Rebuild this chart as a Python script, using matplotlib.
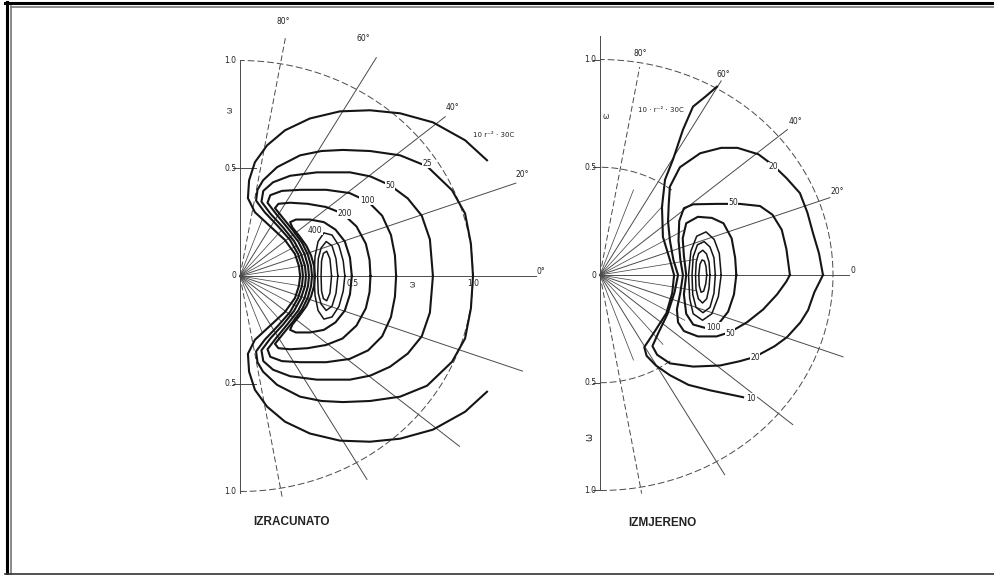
import numpy as np
import matplotlib
matplotlib.use('Agg')
import matplotlib.pyplot as plt

# ============================================================
#  Data (units of r, r = 1.0 at the outer arc)
# ============================================================

# --- left panel (computed), symmetric: upper halves only ---
L10_x = [0.258, 0.253, 0.236, 0.193, 0.129, 0.064, 0.034, 0.039, 0.064, 0.116,
         0.193, 0.300, 0.429, 0.558, 0.687, 0.828, 0.966, 1.060]
L10_y = [0.0, 0.046, 0.102, 0.167, 0.231, 0.296, 0.361, 0.444, 0.528, 0.606,
         0.676, 0.731, 0.764, 0.769, 0.755, 0.713, 0.630, 0.537]
L25_x = [0.270, 0.266, 0.249, 0.215, 0.163, 0.106, 0.069, 0.075, 0.099, 0.159,
         0.258, 0.350, 0.442, 0.558, 0.687, 0.803, 0.910, 0.966, 0.991, 1.000]
L25_y = [0.0, 0.046, 0.102, 0.167, 0.231, 0.296, 0.350, 0.400, 0.444, 0.505,
         0.560, 0.580, 0.585, 0.580, 0.560, 0.509, 0.398, 0.290, 0.150, 0.0]
L50_x = [0.283, 0.279, 0.262, 0.232, 0.185, 0.130, 0.092, 0.100, 0.142, 0.215,
         0.330, 0.472, 0.560, 0.644, 0.720, 0.780, 0.815, 0.828]
L50_y = [0.0, 0.046, 0.102, 0.162, 0.225, 0.290, 0.345, 0.395, 0.435, 0.465,
         0.481, 0.481, 0.462, 0.421, 0.360, 0.280, 0.170, 0.0]
L100_x = [0.296, 0.292, 0.277, 0.250, 0.205, 0.155, 0.118, 0.130, 0.180, 0.260,
          0.370, 0.470, 0.550, 0.610, 0.648, 0.665, 0.670]
L100_y = [0.0, 0.046, 0.102, 0.160, 0.222, 0.288, 0.340, 0.375, 0.395, 0.400,
          0.400, 0.385, 0.345, 0.280, 0.190, 0.095, 0.0]
L200_x = [0.309, 0.305, 0.291, 0.266, 0.225, 0.180, 0.150, 0.165, 0.215, 0.290,
          0.370, 0.440, 0.500, 0.540, 0.556, 0.560]
L200_y = [0.0, 0.046, 0.100, 0.155, 0.215, 0.275, 0.315, 0.335, 0.340, 0.335,
          0.320, 0.290, 0.230, 0.150, 0.075, 0.0]
L400_x = [0.322, 0.318, 0.305, 0.285, 0.255, 0.225, 0.215, 0.240, 0.300, 0.360,
          0.410, 0.450, 0.472, 0.480]
L400_y = [0.0, 0.046, 0.095, 0.140, 0.185, 0.225, 0.250, 0.262, 0.262, 0.250,
          0.215, 0.160, 0.085, 0.0]
L600_x = [0.318, 0.322, 0.335, 0.360, 0.395, 0.425, 0.443, 0.450]
L600_y = [0.0, 0.090, 0.160, 0.200, 0.190, 0.140, 0.070, 0.0]
L800_x = [0.333, 0.336, 0.348, 0.370, 0.395, 0.412, 0.420]
L800_y = [0.0, 0.080, 0.130, 0.160, 0.140, 0.080, 0.0]
L1000_x = [0.348, 0.350, 0.358, 0.372, 0.386, 0.393]
L1000_y = [0.0, 0.070, 0.105, 0.115, 0.080, 0.0]

# --- right panel (measured), full curves ---
R10_x = [0.502, 0.455, 0.399, 0.356, 0.313, 0.279, 0.266, 0.270, 0.300, 0.318,
         0.310, 0.285, 0.230, 0.190, 0.200, 0.240, 0.300, 0.380, 0.472, 0.614]
R10_y = [0.874, 0.830, 0.781, 0.674, 0.535, 0.442, 0.316, 0.177, 0.070, 0.0,
         -0.084, -0.177, -0.270, -0.335, -0.375, -0.420, -0.465, -0.510, -0.535, -0.567]
R20_x = [0.957, 0.940, 0.914, 0.890, 0.858, 0.800, 0.742, 0.680, 0.590, 0.520,
         0.430, 0.343, 0.300, 0.295, 0.292, 0.300, 0.315, 0.335, 0.320, 0.290,
         0.250, 0.225, 0.245, 0.300, 0.400, 0.515, 0.600, 0.665, 0.750, 0.803,
         0.860, 0.893, 0.920, 0.957]
R20_y = [0.0, 0.100, 0.195, 0.290, 0.380, 0.450, 0.510, 0.560, 0.590, 0.590,
         0.565, 0.500, 0.410, 0.330, 0.250, 0.160, 0.070, 0.0, -0.080, -0.180,
         -0.270, -0.330, -0.370, -0.410, -0.425, -0.420, -0.400, -0.380, -0.330, -0.288,
         -0.220, -0.163, -0.080, 0.0]
R50_x = [0.815, 0.800, 0.780, 0.740, 0.687, 0.600, 0.500, 0.400, 0.360, 0.340,
         0.337, 0.345, 0.356, 0.345, 0.330, 0.335, 0.360, 0.420, 0.500, 0.558,
         0.630, 0.700, 0.760, 0.800, 0.815]
R50_y = [0.0, 0.120, 0.210, 0.280, 0.320, 0.330, 0.330, 0.328, 0.310, 0.250,
         0.160, 0.070, 0.0, -0.080, -0.160, -0.220, -0.260, -0.285, -0.285, -0.265,
         -0.220, -0.160, -0.090, -0.030, 0.0]
R100_x = [0.585, 0.580, 0.565, 0.530, 0.480, 0.420, 0.370, 0.355, 0.360, 0.370,
          0.360, 0.370, 0.400, 0.450, 0.510, 0.550, 0.575, 0.585]
R100_y = [0.0, 0.080, 0.170, 0.240, 0.265, 0.270, 0.240, 0.170, 0.090, 0.0,
          -0.090, -0.180, -0.230, -0.245, -0.225, -0.170, -0.090, 0.0]
R200_x = [0.520, 0.512, 0.490, 0.455, 0.415, 0.390, 0.380, 0.385, 0.400, 0.440,
          0.480, 0.508, 0.520]
R200_y = [0.0, 0.100, 0.165, 0.200, 0.180, 0.110, 0.0, -0.110, -0.180, -0.210,
          -0.180, -0.100, 0.0]
R400_x = [0.495, 0.489, 0.472, 0.447, 0.418, 0.400, 0.395, 0.398, 0.412, 0.442,
          0.472, 0.489, 0.495]
R400_y = [0.0, 0.080, 0.130, 0.155, 0.140, 0.085, 0.0, -0.090, -0.150, -0.175,
          -0.150, -0.085, 0.0]
R800_x = [0.472, 0.468, 0.457, 0.441, 0.423, 0.413, 0.410, 0.412, 0.422, 0.440,
          0.458, 0.468, 0.472]
R800_y = [0.0, 0.060, 0.098, 0.115, 0.100, 0.060, 0.0, -0.065, -0.110, -0.130,
          -0.110, -0.060, 0.0]
R1600_x = [0.458, 0.455, 0.448, 0.438, 0.429, 0.424, 0.426, 0.434, 0.445, 0.454, 0.458]
R1600_y = [0.0, 0.040, 0.065, 0.070, 0.050, 0.0, -0.050, -0.080, -0.075, -0.040, 0.0]

# radial guide lines (deg) and how far they run (r units)
RAYS_LONG = [80, 60, 40, 20, -20, -40, -60, -80]
RAYS_LEN_L = [1.13, 1.17, 1.15, 1.26, 1.29, 1.23, 1.09, 1.04]
RAYS_LEN_R = [0.98, 1.04, 1.05, 1.05, 1.11, 1.08, 1.07, 1.03]
RAYS_SHORT = [70, 50, 30, 10, -10, -30, -50, -70]

# label texts / positions
ANGLE_LABELS = ['80°', '60°', '40°', '20°']
ANGLE_POS_L = [(0.185, 1.18), (0.528, 1.10), (0.91, 0.78), (1.21, 0.47)]
ANGLE_POS_R = [(0.172, 1.03), (0.528, 0.93), (0.837, 0.71), (1.02, 0.386)]
L_LABELS = ['25', '50', '100', '200', '400']
L_LABEL_POS = [(0.803, 0.523), (0.644, 0.421), (0.545, 0.352), (0.45, 0.29), (0.322, 0.213)]
R_LABELS = ['20', '50', '100', '50', '20', '10']
R_LABEL_POS = [(0.742, 0.502), (0.571, 0.335), (0.485, -0.242), (0.558, -0.27),
               (0.665, -0.381), (0.65, -0.572)]

INK = '#151515'
GRID = '#4a4a4a'
W, H = 995, 575
SX, SY = 233.0, 215.5


def mirror(xs, ys):
    """Close a symmetric contour from its upper half."""
    return xs[::-1] + xs[1:], [-v for v in ys[::-1]] + ys[1:]


def panel_axes(fig, ox, oy, xlim, ylim):
    left = ox + xlim[0] * SX
    right = ox + xlim[1] * SX
    top = oy - ylim[1] * SY
    bottom = oy - ylim[0] * SY
    ax = fig.add_axes([left / W, (H - bottom) / H, (right - left) / W, (bottom - top) / H])
    ax.set_xlim(xlim)
    ax.set_ylim(ylim)
    ax.axis('off')
    return ax


def arc(ax, r, a0, a1, **kw):
    t = np.radians(np.linspace(a0, a1, 200))
    ax.plot(r * np.cos(t), r * np.sin(t), **kw)


def rays(ax, angles, lengths, dashed=(80, -80), **kw):
    for a, l in zip(angles, lengths):
        t = np.radians(a)
        ls = (0, (6, 3)) if a in dashed else '-'
        ax.plot([0, l * np.cos(t)], [0, l * np.sin(t)], ls=ls, **kw)


def txt(ax, x, y, s, size=5.5, **kw):
    ax.text(x, y, s, fontsize=size, color='#222222', ha=kw.pop('ha', 'center'),
            va=kw.pop('va', 'center'), **kw)


fig = plt.figure(figsize=(W / 100, H / 100), dpi=100)
fig.patch.set_facecolor('white')

# frame of the scan
bg = fig.add_axes([0, 0, 1, 1])
bg.set_xlim(0, W)
bg.set_ylim(H, 0)
bg.axis('off')
bg.plot([5, W], [3, 3], color='black', lw=2.2)
bg.plot([6.5, 6.5], [2, H], color='black', lw=2.2)
bg.plot([11, W], [6.5, 6.5], color='#777777', lw=1.2)
bg.plot([11, 11], [6, H], color='#777777', lw=1.2)
bg.plot([5, W], [574, 574], color='#333333', lw=1.2)

gkw = dict(color=GRID, lw=0.7)

# ------------------------------------------------------------
#  Left panel: IZRACUNATO
# ------------------------------------------------------------
ax = panel_axes(fig, 240, 276, (-0.35, 1.45), (-1.2, 1.25))
ax.plot([0, 0], [-1.005, 1.0], **gkw)
ax.plot([0, 1.27], [0, 0], **gkw)
arc(ax, 1.0, -90, 90, ls=(0, (7, 3)), **gkw)
for yy in (0.5, -0.5):
    ax.plot([-0.03, 0.07], [yy, yy], **gkw)
rays(ax, RAYS_LONG, RAYS_LEN_L, **gkw)
rays(ax, RAYS_SHORT, [0.28] * len(RAYS_SHORT), color=GRID, lw=0.55)

for xs, ys in [(L10_x, L10_y), (L25_x, L25_y), (L50_x, L50_y), (L100_x, L100_y),
               (L200_x, L200_y), (L400_x, L400_y)]:
    mx, my = mirror(xs, ys)
    ax.plot(mx, my, color=INK, lw=1.5, solid_joinstyle='round')
for xs, ys in [(L600_x, L600_y), (L800_x, L800_y), (L1000_x, L1000_y)]:
    mx, my = mirror(xs, ys)
    ax.plot(mx, my, color=INK, lw=1.1, solid_joinstyle='round')

for s, (x, y) in zip(ANGLE_LABELS, ANGLE_POS_L):
    txt(ax, x, y, s)
txt(ax, 1.29, 0.02, '0°')
for s, y in zip(['1.0', '0.5', '0', '0.5', '1.0'], [1.0, 0.5, 0.0, -0.5, -1.0]):
    txt(ax, -0.015, y, s, ha='right')
txt(ax, -0.045, 0.77, 'ω', rotation=90)
txt(ax, 0.485, -0.035, '0.5')
txt(ax, 0.742, -0.035, 'ω', rotation=90)
txt(ax, 1.0, -0.035, '1.0')
txt(ax, 1.09, 0.655, '10 r⁻² · 30C', size=5)
for s, (x, y) in zip(L_LABELS, L_LABEL_POS):
    ax.text(x, y, s, fontsize=5.5, color='#222222', ha='center', va='center',
            bbox=dict(facecolor='white', edgecolor='none', pad=0.4))

# ------------------------------------------------------------
#  Right panel: IZMJERENO
# ------------------------------------------------------------
ax = panel_axes(fig, 600, 275, (-0.35, 1.3), (-1.2, 1.25))
ax.plot([0, 0], [-1.0, 1.107], **gkw)
ax.plot([0, 1.07], [0, 0], **gkw)
arc(ax, 1.0, -90, 90, ls=(0, (7, 3)), **gkw)
arc(ax, 0.5, 52, 90, ls=(0, (7, 3)), **gkw)
arc(ax, 0.5, -90, -52, ls=(0, (7, 3)), **gkw)
for yy in (1.0, 0.5, -0.5, -1.0):
    ax.plot([-0.03, 0.0], [yy, yy], **gkw)
rays(ax, RAYS_LONG, RAYS_LEN_R, **gkw)
rays(ax, RAYS_SHORT, [0.42] * len(RAYS_SHORT), color=GRID, lw=0.55)

for xs, ys in [(R10_x, R10_y), (R20_x, R20_y), (R50_x, R50_y), (R100_x, R100_y)]:
    ax.plot(xs, ys, color=INK, lw=1.5, solid_joinstyle='round')
for xs, ys in [(R200_x, R200_y), (R400_x, R400_y), (R800_x, R800_y), (R1600_x, R1600_y)]:
    ax.plot(xs, ys, color=INK, lw=1.1, solid_joinstyle='round')

for s, (x, y) in zip(ANGLE_LABELS, ANGLE_POS_R):
    txt(ax, x, y, s)
txt(ax, 1.086, 0.02, '0')
for s, y in zip(['1.0', '0.5', '0', '0.5', '1.0'], [1.0, 0.5, 0.0, -0.5, -1.0]):
    txt(ax, -0.015, y, s, ha='right')
txt(ax, 0.025, 0.735, 'ω')
txt(ax, -0.045, -0.75, 'ω', rotation=90, size=7)
txt(ax, 0.262, 0.767, '10 · r⁻² · 30C', size=5,
    bbox=dict(facecolor='white', edgecolor='none', pad=0.2))
for s, (x, y) in zip(R_LABELS, R_LABEL_POS):
    ax.text(x, y, s, fontsize=5.5, color='#222222', ha='center', va='center',
            bbox=dict(facecolor='white', edgecolor='none', pad=0.3))

# captions
fig.text(292 / W, 1 - 522 / H, 'IZRACUNATO', fontsize=8.5, fontweight='bold',
         family='Liberation Sans', ha='center', va='center', color='#222222')
fig.text(662 / W, 1 - 523 / H, 'IZMJERENO', fontsize=8.5, fontweight='bold',
         family='Liberation Sans', ha='center', va='center', color='#222222')

fig.savefig('out.png', dpi=100, facecolor='white')
